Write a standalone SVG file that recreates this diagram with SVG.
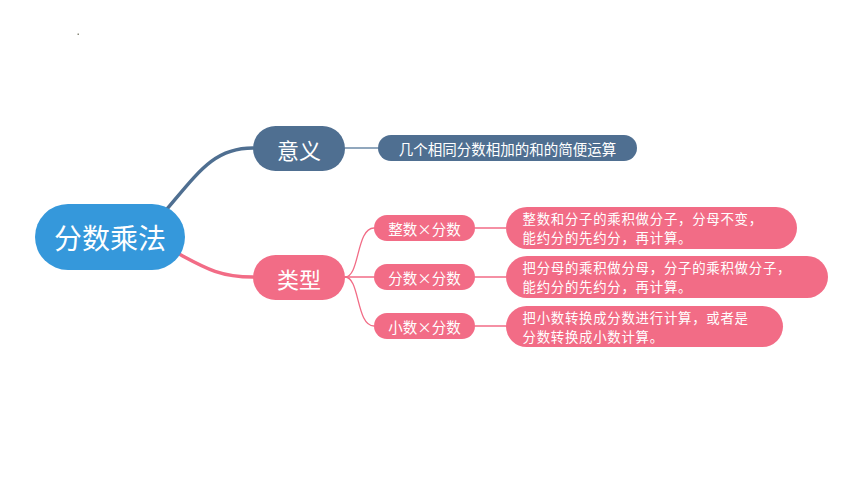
<svg xmlns="http://www.w3.org/2000/svg" width="860" height="484" viewBox="0 0 860 484">
<style>
text{font-family:"Noto Sans CJK SC","Noto Sans",sans-serif;fill:#fff}
.pk{fill:#f26c86}
.sl{fill:#4f6f91}
.c{text-anchor:middle;dominant-baseline:central}
.t{font-size:13.4px;letter-spacing:0.75px}
.e{fill:none;stroke-linecap:round}
</style>
<rect width="860" height="484" fill="#fff"/>
<rect x="77.5" y="33.5" width="1.5" height="1.5" fill="#8a8a7a"/>
<g id="connectors">
<path class="e" d="M167,209 C200,170 215,148 253,148" stroke="#4f6f91" stroke-width="3.5"/>
<path class="e" d="M179,254 C205,268 220,277 253,277" stroke="#f26c86" stroke-width="3.5"/>
<path class="e" d="M345,148 H378" stroke="#6d8aa8" stroke-width="1.5"/>
<path class="e" d="M345,277 C360,277 356,228 374,228" stroke="#f26c86" stroke-width="1.3"/>
<path class="e" d="M345,277 H374" stroke="#f26c86" stroke-width="1.3"/>
<path class="e" d="M345,277 C360,277 356,326 374,326" stroke="#f26c86" stroke-width="1.3"/>
<path class="e" d="M475,228 H506" stroke="#f26c86" stroke-width="1.3"/>
<path class="e" d="M475,277 H506" stroke="#f26c86" stroke-width="1.3"/>
<path class="e" d="M475,326 H506" stroke="#f26c86" stroke-width="1.3"/>
</g>
<g id="root">
<rect x="35" y="204" width="150" height="66" rx="33" fill="#3598db"/>
<text class="c" x="110" y="237" font-size="28">分数乘法</text>
</g>
<g id="yiyi">
<rect class="sl" x="253" y="126" width="92" height="45" rx="22.5"/>
<text class="c" x="299" y="148.5" font-size="22">意义</text>
</g>
<g id="yiyi-desc">
<rect class="sl" x="378" y="135" width="259" height="26" rx="13"/>
<text class="c" x="507.5" y="148" font-size="14.5">几个相同分数相加的和的简便运算</text>
</g>
<g id="leixing">
<rect class="pk" x="253" y="255" width="92" height="45" rx="22.5"/>
<text class="c" x="299" y="277.5" font-size="22">类型</text>
</g>
<g id="type1">
<rect class="pk" x="374" y="215" width="101" height="26" rx="13"/>
<text class="c" x="424.5" y="228" font-size="14.5">整数×分数</text>
</g>
<g id="type2">
<rect class="pk" x="374" y="264" width="101" height="26" rx="13"/>
<text class="c" x="424.5" y="277" font-size="14.5">分数×分数</text>
</g>
<g id="type3">
<rect class="pk" x="374" y="313" width="101" height="26" rx="13"/>
<text class="c" x="424.5" y="326" font-size="14.5">小数×分数</text>
</g>
<g id="desc1">
<rect class="pk" x="506" y="207" width="291" height="42" rx="21"/>
<text class="t" x="522.5" y="223.5">整数和分子的乘积做分子，分母不变，</text>
<text class="t" x="522.5" y="243">能约分的先约分，再计算。</text>
</g>
<g id="desc2">
<rect class="pk" x="506" y="256" width="322" height="42" rx="21"/>
<text class="t" x="522.5" y="272.5">把分母的乘积做分母，分子的乘积做分子，</text>
<text class="t" x="522.5" y="292">能约分的先约分，再计算。</text>
</g>
<g id="desc3">
<rect class="pk" x="506" y="306" width="277" height="41" rx="20.5"/>
<text class="t" x="522.5" y="322.5">把小数转换成分数进行计算，或者是</text>
<text class="t" x="522.5" y="342">分数转换成小数计算。</text>
</g>
</svg>
